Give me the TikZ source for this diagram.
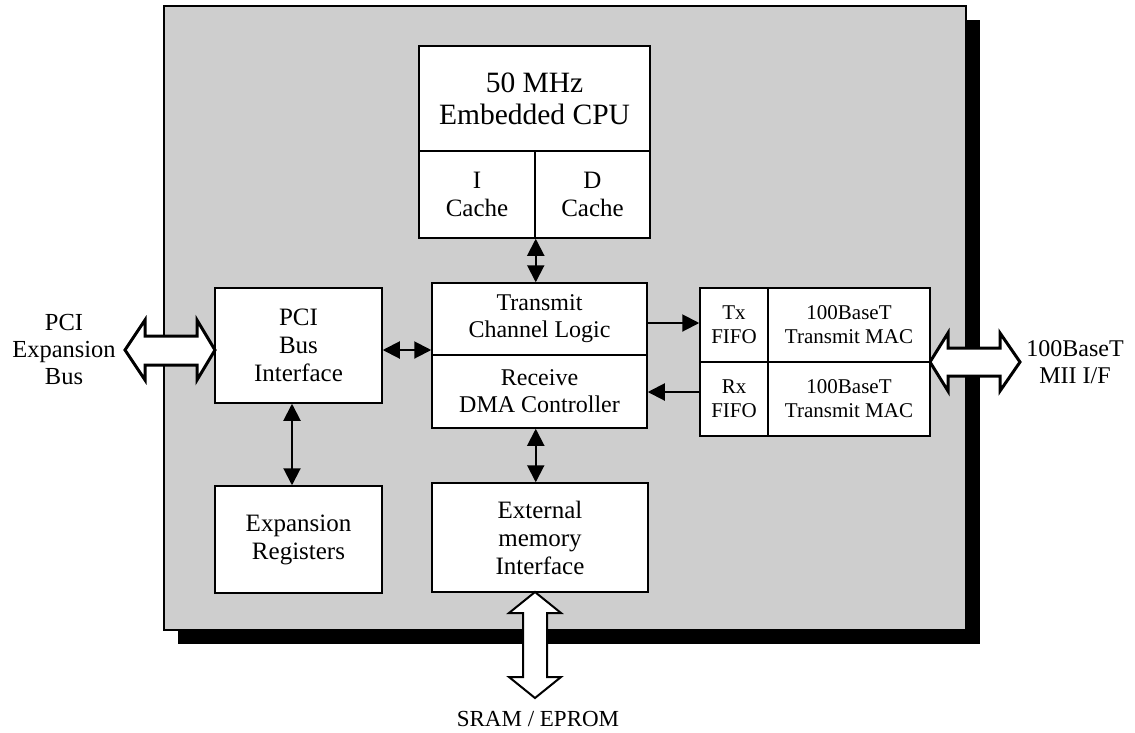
\documentclass[tikz,border=0pt]{standalone}
\usepackage{fontspec}
\setmainfont{Liberation Serif}
\usetikzlibrary{arrows.meta}
\tikzset{
  box/.style={draw, fill=white, line width=1.5pt, inner sep=0pt, align=center, font=\fontsize{25}{28}\selectfont},
  smallbox/.style={box, font=\fontsize{21}{24}\selectfont},
  tip/.tip={Triangle[length=17pt 0 0,width=17pt 0 0]},
  dbl/.style={line width=2pt, tip-tip},
  sgl/.style={line width=2pt, -tip},
  bigarrow/.style={draw, fill=white, line width=3pt, line join=miter},
  lbl/.style={align=center, inner sep=0pt, font=\fontsize{24}{27}\selectfont}
}
\begin{document}
\begin{tikzpicture}[x=1pt,y=-1pt]
\useasboundingbox (0,0) rectangle (1135,732);
% shadow and chip body
\fill[black] (178,20) rectangle (980,644);
\draw[fill={rgb,255:red,206;green,206;blue,206}, line width=1.5pt] (164,6) rectangle (966,630);
% boxes
\node[box, minimum width=231pt, minimum height=105pt, font=\fontsize{29.5}{32}\selectfont] (cpu) at (534.5,98.5) {50 MHz\\Embedded CPU};
\node[box, minimum width=116pt, minimum height=87pt] (icache) at (477,194.5) {I\\Cache};
\node[box, minimum width=115pt, minimum height=87pt] (dcache) at (592.5,194.5) {D\\Cache};
\node[box, minimum width=215pt, minimum height=72pt, font=\fontsize{24}{27}\selectfont] (tx) at (539.5,319) {Transmit\\Channel Logic};
\node[box, minimum width=215pt, minimum height=73pt, font=\fontsize{24}{27}\selectfont] (rx) at (539.5,391.5) {Receive\\DMA Controller};
\node[box, minimum width=167pt, minimum height=115pt] (pci) at (298.5,345.5) {PCI\\Bus\\Interface};
\node[smallbox, minimum width=68pt, minimum height=74pt] (txfifo) at (734,325) {Tx\\FIFO};
\node[smallbox, minimum width=162pt, minimum height=74pt] (txmac) at (849,325) {100BaseT\\Transmit MAC};
\node[smallbox, minimum width=68pt, minimum height=74pt] (rxfifo) at (734,399) {Rx\\FIFO};
\node[smallbox, minimum width=162pt, minimum height=74pt] (rxmac) at (849,399) {100BaseT\\Transmit MAC};
\node[box, minimum width=167pt, minimum height=107pt] (exp) at (298.5,539.5) {Expansion\\Registers};
\node[box, minimum width=216pt, minimum height=109pt] (ext) at (540,537.5) {External\\memory\\Interface};
% connectors
\draw[dbl] (icache.south east) -- (icache.south east |- tx.north);
\draw[dbl] ([yshift=-4.5pt]pci.east) -- ([yshift=-4.5pt]pci.east -| tx.west);
\draw[sgl] ([yshift=2pt]txfifo.west -| tx.east) -- ([yshift=2pt]txfifo.west);
\draw[sgl] ([yshift=7pt]rxfifo.west) -- ([yshift=7pt]rxfifo.west -| rx.east);
\draw[dbl] ([xshift=-6.5pt]pci.south) -- ([xshift=-6.5pt]pci.south |- exp.north);
\draw[dbl] (icache.south east |- rx.south) -- (icache.south east |- ext.north);
% big bus arrows
\draw[bigarrow] (125,350) -- (145,320) -- (145,336) -- (197,336) -- (197,320) -- (215,350) -- (197,380) -- (197,365) -- (145,365) -- (145,380) -- cycle;
\draw[bigarrow] (930,362) -- (948,333) -- (948,348) -- (1000,348) -- (1000,333) -- (1020,362) -- (1000,391) -- (1000,376) -- (948,376) -- (948,391) -- cycle;
\draw[bigarrow, line width=2pt] (535,592) -- (561,613) -- (547,613) -- (547,677) -- (561,677) -- (535,698) -- (509,677) -- (523,677) -- (523,613) -- (509,613) -- cycle;
% external labels
\node[lbl, font=\fontsize{24.5}{27}\selectfont] (pcibus) at (64,349) {PCI\\Expansion\\Bus};
\node[lbl] (mii) at (1075,362) {100BaseT\\MII I/F};
\node[lbl, font=\fontsize{23}{26}\selectfont] (sram) at (538,719) {SRAM / EPROM};
\end{tikzpicture}
\end{document}
